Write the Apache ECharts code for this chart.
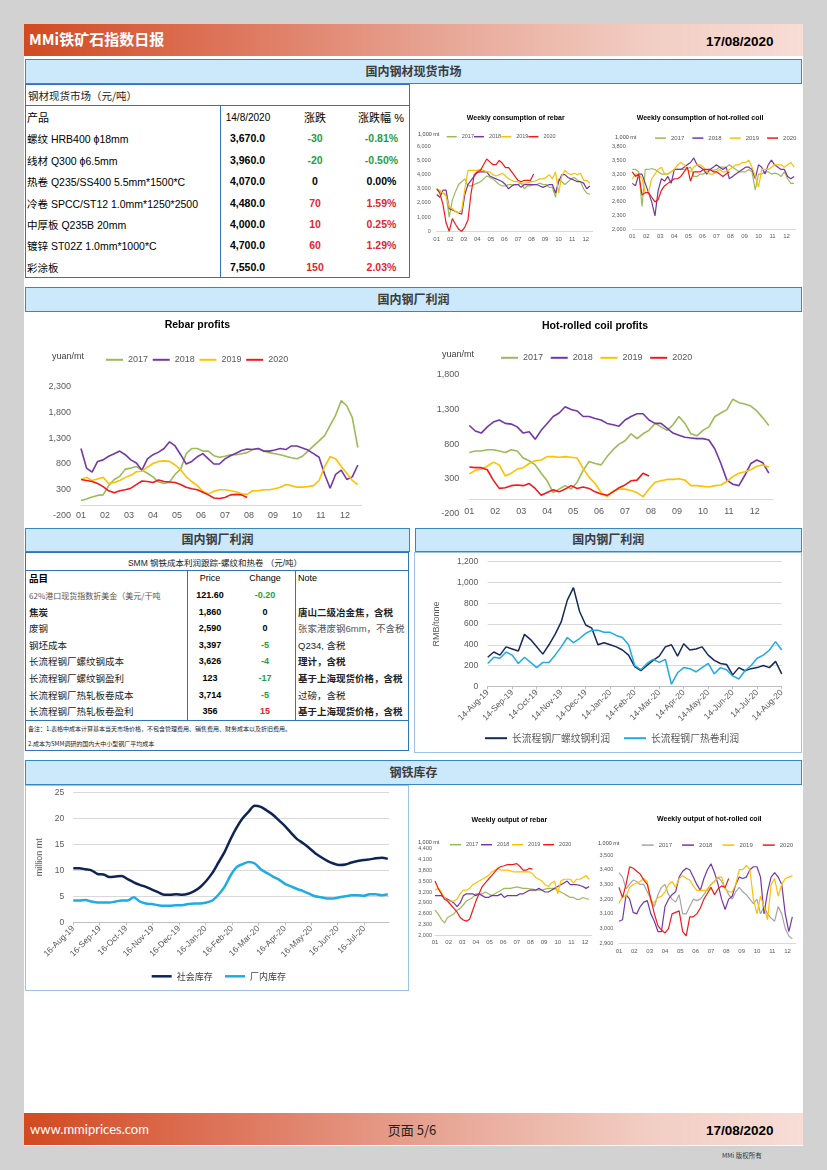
<!DOCTYPE html>
<html>
<head>
<meta charset="utf-8">
<title>MMi铁矿石指数日报</title>
<script src="https://cdn.jsdelivr.net/npm/echarts@6.0.0/dist/echarts.min.js"></script>
<style>
  html, body { margin: 0; padding: 0; }
  body { width: 827px; height: 1170px; background: #d2d2d2; position: relative; overflow: hidden;
         font-family: "Liberation Sans", "Noto Sans CJK SC", sans-serif; color: #000; }
  .a { position: absolute; }
  .band { left: 24px; width: 779px; height: 32px;
          background: linear-gradient(90deg, #d24a20 0%, #de785f 28%, #e8a898 55%, #f2cdc3 80%, #f7ddd6 100%); }
  .sec { background: #cce8fb; border: 1.5px solid #3a86c4; box-sizing: border-box; text-align: center;
         font: bold 12px "Noto Sans CJK SC"; color: #3b3b3b; line-height: 21px; }
  .frame { border: 1.5px solid #2f75b8; box-sizing: border-box; }
  .thin { border: 1px solid #9cc2e5; box-sizing: border-box; }
  .hl { height: 0; border-top: 1.5px solid #2f75b8; }
  .vl { width: 0; border-left: 1.5px solid #2f75b8; }
  .tx { position: absolute; white-space: nowrap; line-height: 1; }
</style>
</head>
<body>
<div class="a" style="left:24px;top:24px;width:779px;height:1122px;background:#fff"></div>
<div class="a band" style="top:24px"></div>
<div class="a band" style="top:1113px"></div>

<div class="a sec" style="left:25px;top:59px;width:777px;height:25px">国内钢材现货市场</div>
<div class="a frame" style="left:25px;top:83.5px;width:384.5px;height:194.5px"></div>
<div class="a hl" style="left:25px;top:105px;width:384px"></div>
<div class="a vl" style="left:219.5px;top:105px;height:172px"></div>

<div class="a sec" style="left:25px;top:286.5px;width:777px;height:25px">国内钢厂利润</div>

<div class="a sec" style="left:25px;top:527.5px;width:385px;height:24px;line-height:20px">国内钢厂利润</div>
<div class="a sec" style="left:414.5px;top:527.5px;width:387.5px;height:24px;line-height:20px">国内钢厂利润</div>
<div class="a frame" style="left:25px;top:551.5px;width:384px;height:199px"></div>
<div class="a hl" style="left:25px;top:569.5px;width:384px"></div>
<div class="a hl" style="left:25px;top:719.5px;width:384px"></div>
<div class="a vl" style="left:186.5px;top:570px;height:150px"></div>
<div class="a vl" style="left:294.5px;top:570px;height:150px"></div>
<div class="a thin" style="left:414px;top:551.5px;width:388px;height:201px"></div>

<div class="a sec" style="left:25px;top:759.5px;width:777px;height:25px">钢铁库存</div>
<div class="a thin" style="left:25px;top:784.5px;width:383.5px;height:206px"></div>

<script>
// ---------- table data ----------
const spotTitle = '钢材现货市场（元/吨）'
const spotHead = ['产品', '14/8/2020', '涨跌', '涨跌幅 %']
const spotNames = ['螺纹 HRB400 ϕ18mm', '线材 Q300 ϕ6.5mm', '热卷 Q235/SS400 5.5mm*1500*C', '冷卷 SPCC/ST12 1.0mm*1250*2500',
  '中厚板 Q235B 20mm', '镀锌 ST02Z 1.0mm*1000*C', '彩涂板']
const spotPrice = ['3,670.0', '3,960.0', '4,070.0', '4,480.0', '4,000.0', '4,700.0', '7,550.0']
const spotChange = [-30, -20, 0, 70, 10, 60, 150]
const spotPct = ['-0.81%', '-0.50%', '0.00%', '1.59%', '0.25%', '1.29%', '2.03%']

const costTitle = 'SMM 钢铁成本利润跟踪-螺纹和热卷  （元/吨）'
const costHead = ['品目', 'Price', 'Change', 'Note']
const costItems = ['62%港口现货指数折美金（美元/干吨', '焦炭', '废钢', '钢坯成本', '长流程钢厂螺纹钢成本',
  '长流程钢厂螺纹钢盈利', '长流程钢厂热轧板卷成本', '长流程钢厂热轧板卷盈利']
const costPrice = ['121.60', '1,860', '2,590', '3,397', '3,626', '123', '3,714', '356']
const costChange = ['-0.20', '0', '0', '-5', '-4', '-17', '-5', '15']
const costNotes = ['', '唐山二级冶金焦，含税', '张家港废钢6mm，不含税', 'Q234, 含税', '理计，含税',
  '基于上海现货价格，含税', '过磅，含税', '基于上海现货价格，含税']
const costRemarks = ['备注：1.表格中成本计算基本当天市场价格，不包含管理费用、销售费用、财务成本以及折旧费用。',
  '2.成本为SMM调研的国内大中小型钢厂平均成本']

// ---------- chart data (weekly) ----------
const years = ['2017', '2018', '2019', '2020']
const monthLabels = ['01', '02', '03', '04', '05', '06', '07', '08', '09', '10', '11', '12']

const consRebar2017 = [3000,2800,2700,2600,1000,2200,2800,3300,3500,3700,3200,3200,3300,3400,3500,3700,3900,3800,3700,3500,
  3300,3200,3200,3300,3300,3300,3300,3400,3000,3200,3200,3300,3300,3400,3300,3300,3100,3100,2400,3700,
  3500,3300,3500,3700,3800,3600,3500,3000,2700,2600]
const consRebar2018 = [2600,2400,2900,2900,1600,1500,1400,1300,1200,2600,3300,3600,3900,4150,4200,4200,4200,3900,3800,3700,
  3600,3500,3300,3000,3200,3300,3300,3100,3300,3300,3300,3300,3300,3200,3100,3200,3300,3300,2700,3500,
  4000,4000,3800,3700,3600,3500,3500,3400,3000,3200]
const consRebar2019 = [3000,2900,2700,2500,1700,1600,1400,1300,1500,3000,4300,4300,4300,4300,4400,4300,4200,4200,4000,3900,
  4000,4100,3900,3700,3600,3500,3500,3400,3400,3400,3500,3500,3600,3700,3700,3800,4000,3700,4200,2700,
  3900,4300,4100,4000,4100,4000,4100,3600,3600,3400]
const consRebar2020 = [3000,2700,1900,600,0,900,500,150,0,300,800,2700,4000,4200,4300,4700,5100,4900,4700,4700,
  5000,4800,4500,4500,4200,3900,3600,3500,3600,3600,3600,4050]

const consHrc2017 = [3300,3300,3250,2500,3300,3300,3320,3300,3250,3200,3200,3200,3250,3300,3300,3300,3300,3320,3350,3150,
  3150,3200,3200,3250,3300,3280,3300,3350,3350,3350,3400,3350,3300,3250,3250,3250,3300,3250,2860,3200,
  3200,3250,3250,3200,3220,3200,3150,3250,3100,3000,3000]
const consHrc2018 = [3000,2950,3200,3200,3000,2800,2600,2300,2850,3100,3050,3150,3000,3300,3300,3300,3350,3400,3450,3550,
  3400,3350,3300,3200,3300,3350,3400,3350,3300,3350,3100,3150,3200,3250,3300,3350,3350,3300,3100,3400,
  3350,3200,3400,3500,3400,3350,3300,3300,3150,3100,3150]
const consHrc2019 = [3100,3200,3200,3100,2800,2800,3100,3200,3300,3350,3200,3200,3250,3300,3400,3450,3400,3300,3250,3350,
  3400,3400,3350,3250,3200,3200,3250,3300,3250,3250,3300,3350,3400,3400,3450,3450,3500,3350,3150,2920,
  3300,3300,3300,3350,3400,3400,3400,3350,3400,3450,3350]
const consHrc2020 = [3250,3150,3200,2750,2800,2800,2700,2600,2650,2850,2950,3000,3050,3100,3100,3150,3250,3350,3050,3250,
  3250,3250,3300,3300,3300,3250,3250,3200,3150,3200,3250]

const rebarProfit2017 = [90,120,160,190,200,380,500,560,700,720,750,680,620,550,450,420,450,600,700,1000,
  1100,1100,1050,1050,960,930,950,980,980,1000,1020,1080,1100,1050,1020,1000,980,950,920,900,
  950,1050,1150,1250,1350,1550,1750,2030,1930,1700,1120]
const rebarProfit2018 = [1100,720,640,850,880,950,1000,1050,980,880,820,680,900,980,1030,1100,1230,1150,980,800,
  850,940,1000,900,800,800,900,960,1010,1060,1090,1080,1100,1050,1050,1070,1100,1080,1150,1150,
  1110,1070,1000,930,600,330,600,680,500,550,780]
const rebarProfit2019 = [500,540,480,510,540,420,440,480,540,580,650,660,740,810,850,860,850,780,690,550,
  460,380,270,220,270,300,300,280,260,220,210,280,280,300,300,320,350,400,380,350,
  350,360,380,480,750,940,900,750,620,480,400]
const rebarProfit2020 = [500,480,460,420,360,280,240,280,300,330,400,470,460,440,490,460,450,440,400,350,
  320,300,250,200,140,130,150,200,210,200,150]

const hrcProfit2017 = [680,700,700,720,720,700,680,720,700,600,560,500,380,270,100,150,200,150,250,420,
  550,520,500,620,720,800,850,950,880,950,1000,1100,1050,1000,1080,1200,1100,950,920,1000,
  1050,1200,1250,1300,1450,1400,1380,1350,1280,1180,1070]
const hrcProfit2018 = [1070,990,960,1050,1120,1150,1100,1090,1050,960,980,870,1000,1100,1200,1250,1340,1300,1280,1200,
  1200,1170,1150,1100,1080,1060,1150,1200,1240,1240,1150,1100,1100,1030,960,930,900,890,880,880,
  860,730,520,280,220,200,350,520,570,530,380]
const hrcProfit2019 = [370,420,440,480,540,500,340,380,440,460,520,560,570,620,620,610,620,610,600,450,
  320,230,100,40,120,150,150,130,100,40,150,250,270,290,290,300,280,200,200,190,
  180,200,210,260,330,380,400,430,480,500,470]
const hrcProfit2020 = [470,460,460,430,280,160,170,200,210,200,230,160,60,100,140,110,150,200,160,180,
  160,110,80,60,110,170,210,270,280,380,340]

const outRebar2017 = [2700,2600,2450,2350,2500,2550,2600,2700,2750,2850,2950,3000,3050,3150,3150,3150,3200,3150,3100,3150,
  3200,3250,3300,3300,3300,3320,3340,3320,3300,3300,3290,3280,3260,3250,3250,3280,3300,3300,3300,3250,
  3200,3150,3100,3050,3050,3000,3000,3050,3020,3000]
const outRebar2018 = [3100,3100,3100,3050,3000,2950,2900,2800,2900,3100,3150,3150,3150,3100,3150,3100,3050,3050,3100,3100,
  3100,3150,3050,3100,3100,3100,3100,3150,3150,3200,3250,3250,3250,3300,3250,3200,3200,3250,3300,3350,
  3400,3450,3500,3400,3400,3400,3380,3350,3300,3350]
const outRebar2019 = [3250,3300,3200,3050,2950,2950,2950,3000,3150,3250,3250,3300,3400,3450,3500,3550,3600,3650,3750,3800,
  3850,3800,3800,3800,3780,3750,3750,3750,3760,3750,3750,3700,3600,3550,3500,3400,3350,3450,3500,3150,
  3500,3550,3550,3550,3450,3550,3550,3600,3650,3550]
const outRebar2020 = [3500,3300,3150,3000,2950,2850,2750,2650,2500,2430,2400,2450,2700,2950,3150,3350,3450,3550,3650,3750,
  3850,3900,3920,3950,3950,3960,3980,3900,3800,3800,3850,3830]

const outHrc2017 = [3380,3350,3270,3300,3330,3320,3300,3300,3250,3200,3150,3230,3280,3300,3230,3200,3180,3230,3100,3100,
  3150,3200,3190,3200,3230,3270,3300,3320,3350,3320,3280,3230,3200,3250,3280,3250,3230,3200,3170,3200,
  3100,3150,3100,3070,3050,3150,3100,3000,2950,2930]
const outHrc2018 = [3050,3060,3230,3200,3110,3100,3150,3180,3190,3100,3050,2980,2980,3150,3200,3230,3250,3350,3390,3410,
  3400,3350,3300,3260,3340,3400,3440,3380,3300,3200,3130,3200,3220,3300,3350,3340,3350,3400,3420,3420,
  3350,3100,3250,3350,3380,3350,3300,3100,2980,3080]
const outHrc2019 = [3170,3220,3220,3280,3300,3310,3320,3340,3320,3180,3180,3210,3220,3250,3300,3320,3280,3340,3360,3340,
  3330,3290,3260,3260,3260,3260,3300,3320,3350,3350,3270,3250,3250,3300,3400,3400,3430,3400,3200,3100,
  3220,3150,3060,3300,3340,3220,3300,3340,3350,3360]
const outHrc2020 = [3280,3210,3300,3420,3410,3390,3370,3330,3300,3200,3100,3020,2990,2970,3000,3100,3110,3120,2980,2950,
  3080,3080,3100,3140,3200,3240,3280,3230,3270,3290,3280,3340]

// long-process mill profits, four readings per month from 14-Aug-19
const millDates = ['14-Aug-19', '14-Sep-19', '14-Oct-19', '14-Nov-19', '14-Dec-19', '14-Jan-20', '14-Feb-20',
  '14-Mar-20', '14-Apr-20', '14-May-20', '14-Jun-20', '14-Jul-20', '14-Aug-20']
const millRebar = [280,330,300,380, 360,340,500,450, 380,310,400,500, 620,830,950,720, 590,560,400,420,
  400,380,350,300, 190,150,200,250, 290,380,400,290, 410,350,360,380, 300,250,220,210,
  110,180,150,170, 180,200,180,240, 120]
const millHrc = [220,280,270,330, 300,220,280,230, 180,230,230,300, 380,470,420,460, 510,540,540,520,
  520,490,470,400, 200,160,220,260, 230,260,20,130, 180,170,140,180, 220,120,180,160,
  100,70,150,200, 270,300,350,430, 350]

// weekly steel inventory, million mt, from 16-Aug-19
const stockDates = ['16-Aug-19', '16-Sep-19', '16-Oct-19', '16-Nov-19', '16-Dec-19', '16-Jan-20', '16-Feb-20',
  '16-Mar-20', '16-Apr-20', '16-May-20', '16-Jun-20', '16-Jul-20']
const stockSocial = [10.4,10.4,10.2,10.0,9.3,9.2,8.7,8.8,8.9,8.3, 7.7,7.2,6.8,6.3,5.8,5.3,5.3,5.4,5.3,5.5,
  6.0,6.8,8.0,9.5,11.5,13.5,16.0,18.2,20.0,21.3, 22.4,22.2,21.5,20.7,19.6,18.5,17.2,16.0,15.2,14.3,
  13.3,12.5,11.8,11.3,11.0,11.1,11.5,11.8,12.0,12.1, 12.3,12.4,12.2]
const stockMill = [4.2,4.2,4.3,4.0,3.8,3.8,3.8,4.0,4.2,4.2, 4.8,4.0,3.6,3.5,3.3,3.2,3.2,3.3,3.3,3.5,
  3.6,3.6,3.8,4.2,5.3,6.8,9.0,10.6,11.2,11.6, 11.3,10.2,9.5,8.8,8.2,7.4,6.9,6.4,6.0,5.5,
  5.0,4.8,4.6,4.6,4.8,5.0,5.2,5.2,5.1,5.4, 5.4,5.2,5.4]

const ticksConsRebar = [0, 1000, 2000, 3000, 4000, 5000, 6000]
const ticksConsHrc = [2000, 2300, 2600, 2900, 3200, 3500, 3800]
const ticksRebarProfit = [-200, 300, 800, 1300, 1800, 2300]
const ticksHrcProfit = [-200, 300, 800, 1300, 1800]
const ticksOutRebar = [2000, 2300, 2600, 2900, 3200, 3500, 3800, 4100, 4400]
const ticksOutHrc = [2900, 3000, 3100, 3200, 3300, 3400, 3500]

// ---------- helpers ----------
const WPM = 52 / 12            // weeks per month on the seasonal charts
const monthWeeks = monthLabels.map((m, k) => k * WPM)
const green = '#1e9e48', red = '#e1262d'
const yearColors = ['#9bbb59', '#7437a8', '#ffc000', '#f01a1a']
const grayYearColors = ['#a6a6a6', '#7437a8', '#ffc000', '#f01a1a']
const navy = '#15295a', sky = '#1fabe4'
const latin = '"Liberation Sans"'

function thousands(v) {
  return String(v).replace(/\B(?=(\d{3})+(?!\d))/g, ',')
}

function tx(x, y, s, css, center) {
  const d = document.createElement('div')
  d.className = 'tx'
  d.textContent = s
  d.style.cssText = 'left:' + x + 'px;top:' + y + 'px;transform:' +
    (center ? 'translate(-50%,-50%)' : 'translateY(-50%)') + ';' + (css || '')
  document.body.appendChild(d)
}

function signColor(v) {
  return v < 0 ? green : (v > 0 ? red : '#000')
}

function place(x, y, w, h) {
  const d = document.createElement('div')
  d.style.cssText = 'position:absolute;left:' + x + 'px;top:' + y + 'px;width:' + w + 'px;height:' + h + 'px'
  document.body.appendChild(d)
  return echarts.init(d)
}

function label(text, x, y, font, fill, align) {
  return { type: 'text', x: x, y: y, silent: true,
    style: { text: text, font: font, fill: fill, textAlign: align, textVerticalAlign: 'middle' } }
}

// ---------- header / footer ----------
tx(29, 38, 'MMi铁矿石指数日报', 'font:bold 15px "Noto Sans CJK SC";color:#fff')
tx(706, 41, '17/08/2020', 'font:bold 13.5px ' + latin)
tx(30, 1129, 'www.mmiprices.com', 'font:13px "Lato","Open Sans";color:#fff')
tx(412, 1129, '页面 5/6', 'font:13px "Noto Sans CJK SC";color:#222', true)
tx(706, 1130, '17/08/2020', 'font:bold 13.5px ' + latin)
tx(722, 1155, 'MMi 版权所有', 'font:6.5px "Noto Sans CJK SC";color:#333')

// ---------- spot price table ----------
tx(28, 95, spotTitle, 'font:10.5px "Noto Sans CJK SC";color:#222')
tx(27, 116.7, spotHead[0], 'font:11px "Noto Sans CJK SC"')
tx(248, 116.7, spotHead[1], 'font:10px ' + latin, true)
tx(315, 116.7, spotHead[2], 'font:11px "Noto Sans CJK SC"', true)
tx(381, 116.7, spotHead[3], 'font:11px ' + latin + ',"Noto Sans CJK SC"', true)
spotNames.forEach((n, i) => {
  const y = 138.3 + i * 21.4
  tx(27, y, n, 'font:10.5px ' + latin + ',"Noto Sans CJK SC"')
  tx(247.5, y, spotPrice[i], 'font:bold 10.5px ' + latin, true)
  tx(315, y, String(spotChange[i]), 'font:bold 10.5px ' + latin + ';color:' + signColor(spotChange[i]), true)
  tx(381.5, y, spotPct[i], 'font:bold 10.5px ' + latin + ';color:' + signColor(spotChange[i]), true)
})

// ---------- cost table ----------
tx(215, 561.5, costTitle, 'font:8.5px ' + latin + ',"Noto Sans CJK SC";color:#222', true)
tx(29, 578.3, costHead[0], 'font:bold 9.5px "Noto Sans CJK SC"')
tx(210, 578.3, costHead[1], 'font:9px ' + latin, true)
tx(265, 578.3, costHead[2], 'font:9px ' + latin, true)
tx(298, 578.3, costHead[3], 'font:9px ' + latin)
const boldItems = [false, true, false, false, false, false, false, false]
const boldNotes = [false, true, false, false, true, true, false, true]
costItems.forEach((n, i) => {
  const y = 595 + i * 16.6
  tx(29, y, n, i === 0 ? 'font:8px "Noto Sans CJK SC";color:#555'
    : 'font:' + (boldItems[i] ? 'bold ' : '') + '9.5px "Noto Sans CJK SC";color:#222')
  tx(210, y, costPrice[i], 'font:bold 9px ' + latin, true)
  tx(265, y, costChange[i], 'font:bold 9px ' + latin + ';color:' + signColor(parseFloat(costChange[i])), true)
  tx(298, y, costNotes[i], 'font:' + (boldNotes[i] ? 'bold ' : '') + '9.5px ' + latin + ',"Noto Sans CJK SC";color:' +
    (i === 2 ? '#555' : '#222'))
})
tx(28, 728.3, costRemarks[0], 'font:6px "Noto Sans CJK SC";color:#222')
tx(28, 743.3, costRemarks[1], 'font:6px "Noto Sans CJK SC";color:#222')

// ---------- seasonal charts ----------
function seasonal(c) {
  const [bx, by, bw, bh] = c.box
  const [gx1, gy1, gx2, gy2] = c.grid
  const chart = place(bx, by, bw, bh)
  chart.setOption({
    animation: false,
    grid: { left: gx1 - bx, top: gy1 - by, width: gx2 - gx1, height: gy2 - gy1,
      containLabel: false, outerBoundsMode: 'none' },
    graphic: [
      label(c.title, c.titleAt[0] - bx, c.titleAt[1] - by, 'bold ' + c.titleSize + 'px ' + latin, '#000', 'center'),
      label(c.unit, c.unitAt[0] - bx, c.unitAt[1] - by, c.unitSize + 'px ' + latin, '#404040', 'left')
    ],
    legend: {
      left: c.legendAt[0] - bx, top: c.legendAt[1] - by - c.key[3] * 0.6, padding: 0,
      icon: 'rect', itemWidth: c.key[0], itemHeight: c.key[1], itemGap: c.key[2],
      textStyle: { fontSize: c.key[3], color: '#595959', fontFamily: 'Liberation Sans' },
      data: years
    },
    xAxis: {
      type: 'value', min: 0, max: c.xmax,
      axisLine: { onZero: true, lineStyle: { color: '#d9d9d9' } },
      axisTick: { show: false }, splitLine: { show: false },
      axisLabel: { customValues: monthWeeks, formatter: v => monthLabels[Math.round(v / WPM)],
        fontSize: c.xFont, margin: c.xMargin, color: '#595959', fontFamily: 'Liberation Sans' }
    },
    yAxis: {
      type: 'value', min: c.ticks[0], max: c.ticks[c.ticks.length - 1],
      axisLine: { show: false }, axisTick: { show: false }, splitLine: { show: false },
      axisLabel: { customValues: c.ticks, formatter: thousands,
        fontSize: c.yFont, margin: c.yMargin, color: '#595959', fontFamily: 'Liberation Sans' }
    },
    series: c.data.map((vals, i) => ({
      name: years[i], type: 'line', symbol: 'none',
      data: vals.map((v, k) => [k, v]),
      lineStyle: { width: c.lw, color: c.colors[i] }, itemStyle: { color: c.colors[i] }
    }))
  })
}

seasonal({ box: [415, 100, 190, 150], grid: [436.7, 146.3, 592.7, 231.3], xmax: 49.9, ticks: ticksConsRebar,
  title: 'Weekly consumption of rebar', titleAt: [515.7, 117.7], titleSize: 7,
  unit: '1,000 mt', unitAt: [418, 134.3], unitSize: 5.5, legendAt: [446.7, 137], key: [10, 1.5, 0, 5.5],
  xFont: 6, xMargin: 5, yFont: 5.5, yMargin: 6, lw: 1.2, colors: yearColors,
  data: [consRebar2017, consRebar2018, consRebar2019, consRebar2020] })

seasonal({ box: [605, 100, 197, 150], grid: [632.3, 146.3, 795.7, 229.7], xmax: 50.5, ticks: ticksConsHrc,
  title: 'Weekly consumption of hot-rolled coil', titleAt: [700, 117.7], titleSize: 7,
  unit: '1,000 mt', unitAt: [615, 137], unitSize: 5.5, legendAt: [655, 138.7], key: [11, 1.5, 8, 6],
  xFont: 6, xMargin: 4, yFont: 5.5, yMargin: 6.6, lw: 1.2, colors: yearColors,
  data: [consHrc2017, consHrc2018, consHrc2019, consHrc2020] })

// the month labels of the profit charts sit inside the -200..0 band, as in the source
seasonal({ box: [25, 313, 385, 213], grid: [81, 386.7, 361.7, 515.5], xmax: 50.7, ticks: ticksRebarProfit,
  title: 'Rebar profits', titleAt: [197.3, 325], titleSize: 10.5,
  unit: 'yuan/mt', unitAt: [52, 356.7], unitSize: 9, legendAt: [106, 360.7], key: [17, 2, 4.7, 9],
  xFont: 9, xMargin: -4.5, yFont: 9, yMargin: 10, lw: 1.6, colors: yearColors,
  data: [rebarProfit2017, rebarProfit2018, rebarProfit2019, rebarProfit2020] })

seasonal({ box: [415, 313, 387, 213], grid: [469.3, 375, 773.3, 513.3], xmax: 50.75, ticks: ticksHrcProfit,
  title: 'Hot-rolled coil profits', titleAt: [595, 326], titleSize: 10.5,
  unit: 'yuan/mt', unitAt: [442, 354.3], unitSize: 9, legendAt: [501, 358.7], key: [17, 2, 7.7, 9],
  xFont: 9, xMargin: -6, yFont: 9, yMargin: 10, lw: 1.6, colors: yearColors,
  data: [hrcProfit2017, hrcProfit2018, hrcProfit2019, hrcProfit2020] })

seasonal({ box: [415, 805, 190, 160], grid: [435, 848.3, 591.7, 935.7], xmax: 49.8, ticks: ticksOutRebar,
  title: 'Weekly output of rebar', titleAt: [509.3, 820], titleSize: 7,
  unit: '1,000 mt', unitAt: [418, 842.7], unitSize: 5.5, legendAt: [450, 845], key: [11, 1.5, 2.8, 5.5],
  xFont: 6, xMargin: 4, yFont: 5.5, yMargin: 3, lw: 1.2, colors: yearColors,
  data: [outRebar2017, outRebar2018, outRebar2019, outRebar2020] })

seasonal({ box: [597, 805, 205, 160], grid: [619, 855, 795.7, 943.3], xmax: 49.95, ticks: ticksOutHrc,
  title: 'Weekly output of hot-rolled coil', titleAt: [709.3, 819], titleSize: 7,
  unit: '1,000 mt', unitAt: [598, 843], unitSize: 5.5, legendAt: [641.7, 845.7], key: [12, 1.5, 10, 6],
  xFont: 6, xMargin: 5, yFont: 5.5, yMargin: 5.7, lw: 1.2, colors: grayYearColors,
  data: [outHrc2017, outHrc2018, outHrc2019, outHrc2020] })

// ---------- long-process mill profit ----------
const millChart = place(415, 552, 387, 198)
millChart.setOption({
  animation: false,
  grid: { left: 72.7, top: 9.7, width: 294, height: 124.6, containLabel: false, outerBoundsMode: 'none' },
  legend: {
    left: 70, top: 181.3, padding: 0, icon: 'rect', itemWidth: 22, itemHeight: 2, itemGap: 14,
    textStyle: { fontSize: 9.8, color: '#595959', fontFamily: 'Noto Sans CJK SC' },
    data: ['长流程钢厂螺纹钢利润', '长流程钢厂热卷利润']
  },
  xAxis: {
    type: 'value', min: 0, max: 12, interval: 1,
    axisLine: { lineStyle: { color: '#bfbfbf' } },
    axisTick: { show: true, length: 3, lineStyle: { color: '#bfbfbf' } },
    splitLine: { show: false },
    axisLabel: { formatter: v => millDates[Math.round(v)], rotate: 45, fontSize: 8.5, margin: 5,
      color: '#595959', fontFamily: 'Liberation Sans' }
  },
  yAxis: {
    type: 'value', min: 0, max: 1200, interval: 200,
    name: 'RMB/tonne', nameLocation: 'middle', nameGap: 47,
    nameTextStyle: { fontSize: 9, color: '#595959', fontFamily: 'Liberation Sans' },
    axisLine: { show: false }, axisTick: { show: false },
    splitLine: { lineStyle: { color: '#d9d9d9' } },
    axisLabel: { formatter: thousands, fontSize: 8.5, margin: 9.4, color: '#595959', fontFamily: 'Liberation Sans' }
  },
  series: [
    { name: '长流程钢厂螺纹钢利润', type: 'line', symbol: 'none', data: millRebar.map((v, k) => [k / 4, v]),
      lineStyle: { width: 1.5, color: navy }, itemStyle: { color: navy } },
    { name: '长流程钢厂热卷利润', type: 'line', symbol: 'none', data: millHrc.map((v, k) => [k / 4, v]),
      lineStyle: { width: 1.5, color: sky }, itemStyle: { color: sky } }
  ]
})

// ---------- steel inventory ----------
const WEEKS_PER_MONTH = 4.372
const stockTicks = stockDates.map((d, k) => k * WEEKS_PER_MONTH)
const stockChart = place(25, 785, 383, 205)
stockChart.setOption({
  animation: false,
  grid: { left: 48.3, top: 7.3, width: 315.7, height: 130, containLabel: false, outerBoundsMode: 'none' },
  legend: {
    left: 126.7, top: 186.8, padding: 0, icon: 'rect', itemWidth: 20, itemHeight: 2.5, itemGap: 12.3,
    textStyle: { fontSize: 9, color: '#404040', fontFamily: 'Noto Sans CJK SC' },
    data: ['社会库存', '厂内库存']
  },
  xAxis: {
    type: 'value', min: 0, max: 52.2,
    axisLine: { lineStyle: { color: '#bfbfbf' } },
    axisTick: { show: true, customValues: stockTicks, length: 3, lineStyle: { color: '#bfbfbf' } },
    splitLine: { show: false },
    axisLabel: { customValues: stockTicks, formatter: v => stockDates[Math.round(v / WEEKS_PER_MONTH)],
      rotate: 45, fontSize: 8.5, margin: 5, color: '#595959', fontFamily: 'Liberation Sans' }
  },
  yAxis: {
    type: 'value', min: 0, max: 25, interval: 5,
    name: 'million mt', nameLocation: 'middle', nameGap: 15,
    nameTextStyle: { fontSize: 9, color: '#595959', fontFamily: 'Liberation Sans' },
    axisLine: { show: false }, axisTick: { show: false },
    splitLine: { lineStyle: { color: '#d9d9d9' } },
    axisLabel: { fontSize: 8.5, margin: 9, color: '#595959', fontFamily: 'Liberation Sans' }
  },
  series: [
    { name: '社会库存', type: 'line', symbol: 'none', smooth: 0.3, data: stockSocial.map((v, k) => [k, v]),
      lineStyle: { width: 2.5, color: '#0f2456' }, itemStyle: { color: '#0f2456' } },
    { name: '厂内库存', type: 'line', symbol: 'none', smooth: 0.3, data: stockMill.map((v, k) => [k, v]),
      lineStyle: { width: 2.5, color: sky }, itemStyle: { color: sky } }
  ]
})
</script>
</body>
</html>
